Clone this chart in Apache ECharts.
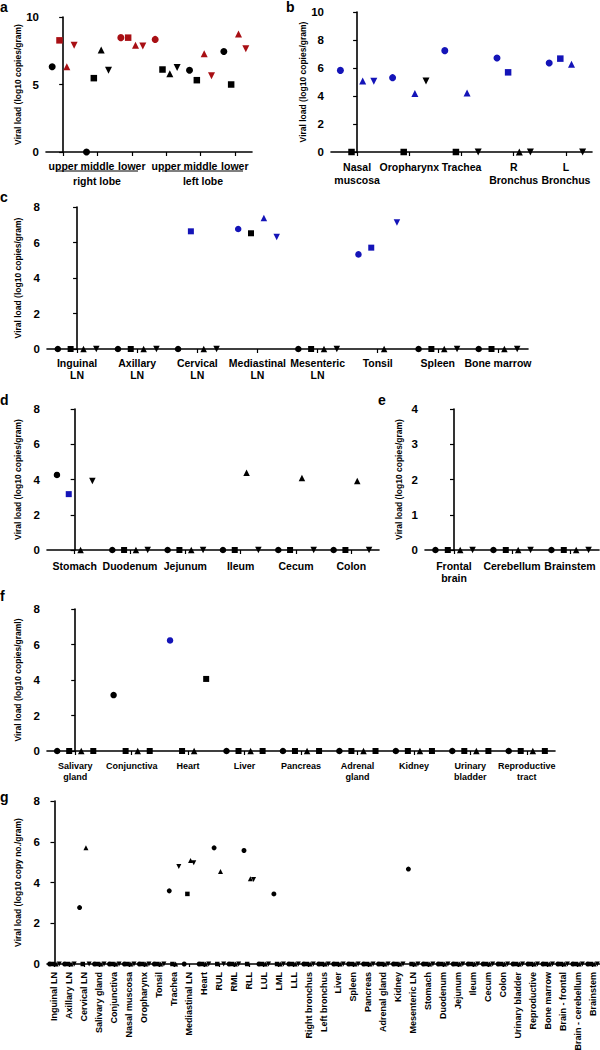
<!DOCTYPE html>
<html><head><meta charset="utf-8">
<script src="https://cdn.jsdelivr.net/npm/echarts@6/dist/echarts.min.js"></script>
<style>html,body{margin:0;padding:0;background:#fff}#c{width:600px;height:1050px}</style>
</head><body><div id="c"></div>
<script>
// ---------------- DATA ----------------
// group codes: k = black, r = red, b = blue
// Panel a
const aCats = ['upper','middle','lower','upper','middle','lower'];
const aCircle = [6.31, 0, 8.47, 8.34, 6.06, 7.45];
const aCircleGrp = ['k','k','r','r','k','k'];
const aSquare = [8.27, 5.47, 8.47, 6.11, 5.32, 5.0];
const aSquareGrp = ['r','k','r','k','k','k'];
const aTri = [6.31, 7.55, 7.9, 5.79, 7.28, 8.74];
const aTriGrp = ['r','k','r','k','r','r'];
const aInv = [7.9, 6.06, 7.85, 6.26, 5.64, 7.65];
const aInvGrp = ['r','k','r','k','r','r'];
const aGroups = ['right lobe','left lobe'];

// Panel b
const bCats = ['Nasal\nmuscosa','Oropharynx','Trachea','R\nBronchus','L\nBronchus'];
const bCircle = [5.83, 5.31, 7.24, 6.71, 6.36];
const bCircleGrp = ['b','b','b','b','b'];
const bSquare = [0, 0, 0, 5.69, 6.67];
const bSquareGrp = ['k','k','k','b','b'];
const bTri = [5.07, 4.17, 4.21, 0, 6.26];
const bTriGrp = ['b','b','b','k','b'];
const bInv = [5.05, 5.07, 0, 0, 0];
const bInvGrp = ['b','k','k','k','k'];

// Panel c
const cCats = ['Inguinal\nLN','Axillary\nLN','Cervical\nLN','Mediastinal\nLN','Mesenteric\nLN','Tonsil','Spleen','Bone marrow'];
const cCircle = [0, 0, 0, 6.76, 0, 5.33, 0, 0];
const cCircleGrp = ['k','k','k','b','k','b','k','k'];
const cSquare = [0, 0, 6.63, 6.52, 0, 5.71, 0, 0];
const cSquareGrp = ['k','k','b','k','k','b','k','k'];
const cTri = [0, 0, 0, 7.38, 0, 0, 0, 0];
const cTriGrp = ['k','k','k','b','k','k','k','k'];
const cInv = [0, 0, 0, 6.31, 0, 7.12, 0, 0];
const cInvGrp = ['k','k','k','b','k','b','k','k'];

// Panel d
const dCats = ['Stomach','Duodenum','Jejunum','Ileum','Cecum','Colon'];
const dCircle = [4.26, 0, 0, 0, 0, 0];
const dSquare = [3.17, 0, 0, 0, 0, 0];
const dSquareGrp = ['b','k','k','k','k','k'];
const dTri = [0, 0, 0, 4.38, 4.08, 3.92];
const dInv = [3.91, 0, 0, 0, 0, 0];

// Panel e
const eCats = ['Frontal\nbrain','Cerebellum','Brainstem'];
const eCircle = [0, 0, 0];
const eSquare = [0, 0, 0];
const eTri = [0, 0, 0];
const eInv = [0, 0, 0];

// Panel f
const fCats = ['Salivary\ngland','Conjunctiva','Heart','Liver','Pancreas','Adrenal\ngland','Kidney','Urinary\nbladder','Reproductive\ntract'];
const fCircle = [0, 3.15, 6.23, 0, 0, 0, 0, 0, 0];
const fCircleGrp = ['k','k','b','k','k','k','k','k','k'];
const fSquare = [0, 0, 0, 0, 0, 0, 0, 0, 0];
const fTri = [0, 0, 0, 0, 0, 0, 0, 0, 0];
const fSquare2 = [0, 0, 4.06, 0, 0, 0, 0, 0, 0];

// Panel g
const gCats = ['Inguinal LN','Axillary LN','Cervical LN','Salivary gland','Conjunctiva','Nasal muscosa','Oropharynx','Tonsil','Trachea','Mediastinal LN','Heart','RUL','RML','RLL','LUL','LML','LLL','Right bronchus','Left bronchus','Liver','Spleen','Pancreas','Adrenal gland','Kidney','Mesenteric LN','Stomach','Duodenum','Jejunum','Ileum','Cecum','Colon','Urinary bladder','Reproductive','Bone marrow','Brain - frontal','Brain - cerebellum','Brainstem'];
const gCircle = [0,0,2.77,0,0,0,0,0,3.59,0,0,5.70,0,5.57,0,3.44,0,0,0,0,0,0,0,0,4.66,0,0,0,0,0,0,0,0,0,0,0,0];
const gSquare = [0,0,0,0,0,0,0,0,0,3.44,0,0,0,0,0,0,0,0,0,0,0,0,0,0,0,0,0,0,0,0,0,0,0,0,0,0,0];
const gTri = [0,0,5.70,0,0,0,0,0,0,5.08,0,4.54,0,4.18,0,0,0,0,0,0,0,0,0,0,0,0,0,0,0,0,0,0,0,0,0,0,0];
const gInv = [0,0,0,0,0,0,0,0,4.79,4.97,0,0,0,4.15,0,0,0,0,0,0,0,0,0,0,0,0,0,0,0,0,0,0,0,0,0,0,0];

// ---------------- STYLE ----------------
const FONT = "'Liberation Sans', Arial, sans-serif";
const COL = {k:'#000000', r:'#a80f14', b:'#1414b8'};
const OFF = [-0.32, -0.107, 0.107, 0.32];

const grids = [], xAxes = [], yAxes = [], series = [];

function addPanel(p){
  const gi = grids.length;
  grids.push(Object.assign({outerBoundsMode:'none', containLabel:false}, p.grid));
  xAxes.push({
    type:'category', gridIndex:gi, data:p.cats, boundaryGap:true,
    axisLine:{show:true, lineStyle:{color:'#000', width:1.6}},
    axisTick:{show:true, alignWithLabel:true, length:p.tickLen||4, lineStyle:{color:'#000', width:1.2}},
    axisLabel:{interval:0, color:'#000', fontWeight:'bold', fontFamily:FONT, fontSize:p.lf, lineHeight:p.lh, margin:p.lm, rotate:p.rot||0},
    splitLine:{show:false}
  });
  xAxes.push({type:'value', gridIndex:gi, min:-0.5, max:p.cats.length-0.5, show:false});
  yAxes.push({
    type:'value', gridIndex:gi, min:0, max:p.yMax, interval:p.yInt,
    axisLine:{show:true, lineStyle:{color:'#000', width:1.6}},
    axisTick:{show:true, length:4, lineStyle:{color:'#000', width:1.2}},
    axisLabel:{color:'#000', fontWeight:'bold', fontFamily:FONT, fontSize:11.5, margin:7},
    splitLine:{show:false},
    name:p.yName, nameLocation:'middle', nameGap:p.ng,
    nameTextStyle:{color:'#000', fontWeight:'bold', fontFamily:FONT, fontSize:8.5}
  });
  p.series.forEach((s, si) => {
    const inv = s.shape === 'inv';
    series.push({
      type:'scatter', xAxisIndex:gi*2+1, yAxisIndex:gi, clip:false, silent:true,
      symbol: inv ? 'triangle' : s.shape, symbolRotate: inv ? 180 : 0,
      symbolSize: s.shape === 'rect' ? p.size - 0.5 : p.size,
      itemStyle:{opacity:1},
      data: s.vals.map((v, i) => ({
        value:[i + OFF[si], v],
        itemStyle:{color: COL[s.grp ? s.grp[i] : 'k'], opacity:1}
      }))
    });
  });
}

const YN = 'Viral load (log10 copies/gram)';

addPanel({grid:{left:46, top:17, width:206, height:135}, cats:aCats, yMax:10, yInt:5, yName:YN, ng:23,
  lf:10.5, lh:12, lm:8, size:7,
  series:[{vals:aCircle, grp:aCircleGrp, shape:'circle'},{vals:aSquare, grp:aSquareGrp, shape:'rect'},
          {vals:aTri, grp:aTriGrp, shape:'triangle'},{vals:aInv, grp:aInvGrp, shape:'inv'}]});
addPanel({grid:{left:331, top:12, width:261, height:140}, cats:bCats, yMax:10, yInt:2, yName:YN, ng:23,
  lf:10.5, lh:13, lm:8, size:7,
  series:[{vals:bCircle, grp:bCircleGrp, shape:'circle'},{vals:bSquare, grp:bSquareGrp, shape:'rect'},
          {vals:bTri, grp:bTriGrp, shape:'triangle'},{vals:bInv, grp:bInvGrp, shape:'inv'}]});
addPanel({grid:{left:47, top:207, width:481, height:142}, cats:cCats, yMax:8, yInt:2, yName:YN, ng:22,
  lf:10.5, lh:12, lm:8, size:6.5,
  series:[{vals:cCircle, grp:cCircleGrp, shape:'circle'},{vals:cSquare, grp:cSquareGrp, shape:'rect'},
          {vals:cTri, grp:cTriGrp, shape:'triangle'},{vals:cInv, grp:cInvGrp, shape:'inv'}]});
addPanel({grid:{left:47, top:409, width:332, height:141}, cats:dCats, yMax:8, yInt:2, yName:YN, ng:22,
  lf:10.5, lh:12, lm:10, size:6.5,
  series:[{vals:dCircle, shape:'circle'},{vals:dSquare, grp:dSquareGrp, shape:'rect'},
          {vals:dTri, shape:'triangle'},{vals:dInv, shape:'inv'}]});
addPanel({grid:{left:425, top:409, width:174, height:141}, cats:eCats, yMax:4, yInt:1, yName:YN, ng:22,
  lf:10.5, lh:12, lm:10, size:6.5,
  series:[{vals:eCircle, shape:'circle'},{vals:eSquare, shape:'rect'},
          {vals:eTri, shape:'triangle'},{vals:eInv, shape:'inv'}]});
addPanel({grid:{left:47, top:609, width:508, height:142}, cats:fCats, yMax:8, yInt:2, yName:'Viral load (log10 copies/graml)', ng:22,
  lf:9, lh:10.5, lm:10, size:6.5,
  series:[{vals:fCircle, grp:fCircleGrp, shape:'circle'},{vals:fSquare, shape:'rect'},
          {vals:fTri, shape:'triangle'},{vals:fSquare2, shape:'rect'}]});
addPanel({grid:{left:47, top:801, width:553, height:163}, cats:gCats, yMax:8, yInt:2, yName:'Viral load (log10 copy no./gram)', ng:20,
  lf:9, lh:10, lm:8, rot:90, size:5, tickLen:3,
  series:[{vals:gCircle, shape:'circle'},{vals:gSquare, shape:'rect'},
          {vals:gTri, shape:'triangle'},{vals:gInv, shape:'inv'}]});

// panel letters and group annotation for panel a
const letter = (t, x, y) => ({type:'text', x:x, y:y, silent:true,
  style:{text:t, fill:'#000', fontWeight:'bold', fontSize:14, fontFamily:FONT, align:'left', verticalAlign:'middle'}});
const grpText = (t, x, y) => ({type:'text', x:x, y:y, silent:true,
  style:{text:t, fill:'#000', fontWeight:'bold', fontSize:10.5, fontFamily:FONT, align:'center', verticalAlign:'middle'}});
const hline = (x1, x2, y) => ({type:'line', silent:true, shape:{x1:x1, y1:y, x2:x2, y2:y}, style:{stroke:'#000', lineWidth:1.2}});

const graphic = [
  letter('a', 0, 7), letter('b', 286, 7), letter('c', 0, 197), letter('d', 0, 400),
  letter('e', 378, 400), letter('f', 0, 596), letter('g', 0, 797),
  hline(57, 138, 171), hline(162, 243, 171),
  grpText(aGroups[0], 97, 181), grpText(aGroups[1], 203, 181)
];

const chart = echarts.init(document.getElementById('c'), null, {renderer:'svg'});
chart.setOption({
  animation:false, backgroundColor:'#fff',
  textStyle:{fontFamily:FONT},
  grid:grids, xAxis:xAxes, yAxis:yAxes, series:series, graphic:graphic
});
</script></body></html>
